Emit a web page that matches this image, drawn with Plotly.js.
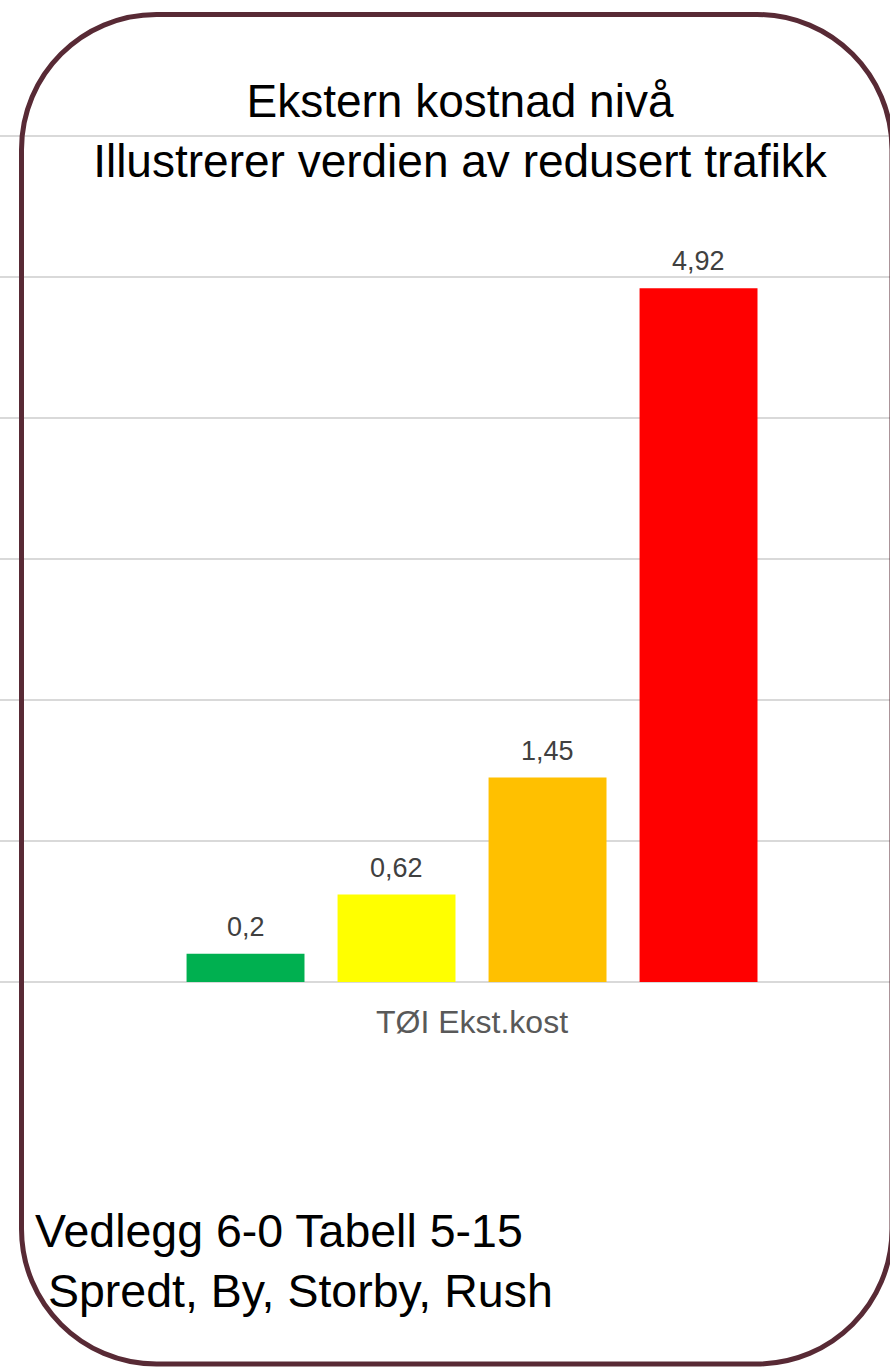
<!DOCTYPE html>
<html>
<head>
<meta charset="utf-8">
<script src="https://cdn.plot.ly/plotly-3.0.1.min.js"></script>
<style>html,body{margin:0;padding:0;background:#fff;}#chart{width:890px;height:1367px;}</style>
</head>
<body>
<div id="chart"></div>
<script>
// ---- data ----
const categories = ["TØI Ekst.kost"];
const seriesNames = ["Spredt", "By", "Storby", "Rush"];
const seriesValues = [0.2, 0.62, 1.45, 4.92];
const seriesColors = ["#00B050", "#FFFF00", "#FFC000", "#FF0000"];
const titleText = "Ekstern kostnad nivå<br>Illustrerer verdien av redusert trafikk";
const footerText = "Vedlegg 6-0 Tabell 5-15<br>\u00A0Spredt, By, Storby, Rush";

// ---- layout geometry ----
const W = 890, H = 1367;
const M = {l: 0, r: 0, t: 100, b: 385, pad: 0};
const plotW = W - M.l - M.r, plotH = H - M.t - M.b;
const xRange = [-0.6252, 0.5536];
const yRange = [0, 6.255];
const bargap = 0.2, bargroupgap = 0.219;
const px2x = px => (px - M.l) / plotW;
const py2y = py => (H - M.b - py) / plotH;
const FONT = '"Liberation Sans", Arial, sans-serif';

const traces = seriesNames.map((name, i) => ({
  type: 'bar',
  name: name,
  x: categories,
  y: [seriesValues[i]],
  marker: {color: seriesColors[i]},
  hoverinfo: 'x+y+name'
}));

// data labels
const unitPx = plotW / (xRange[1] - xRange[0]);
const slotPx = unitPx * (1 - bargap) / seriesNames.length;
const annotations = seriesValues.map((v, i) => ({
  xref: 'x', yref: 'y', x: categories[0], y: v,
  xshift: (i - (seriesNames.length - 1) / 2) * slotPx,
  yshift: 10,
  text: String(v).replace('.', ','),
  showarrow: false, xanchor: 'center', yanchor: 'bottom',
  font: {family: FONT, size: 27, color: '#404040'}
}));
annotations.push({
  xref: 'paper', yref: 'paper', x: px2x(33), y: py2y(1203),
  xanchor: 'left', yanchor: 'top', align: 'left', showarrow: false,
  text: footerText,
  font: {family: FONT, size: 46.5, color: '#000000'}
});

// rounded border
const L = 21.5, T = 14.5, R = 892, B = 1364, rr = 135, k = 0.5523 * rr;
const P = (px, py) => px2x(px) + ',' + py2y(py);
const path = 'M' + P(L + rr, T) + ' L' + P(R - rr, T) +
  ' C' + P(R - rr + k, T) + ' ' + P(R, T + rr - k) + ' ' + P(R, T + rr) +
  ' L' + P(R, B - rr) +
  ' C' + P(R, B - rr + k) + ' ' + P(R - rr + k, B) + ' ' + P(R - rr, B) +
  ' L' + P(L + rr, B) +
  ' C' + P(L + rr - k, B) + ' ' + P(L, B - rr + k) + ' ' + P(L, B - rr) +
  ' L' + P(L, T + rr) +
  ' C' + P(L, T + rr - k) + ' ' + P(L + rr - k, T) + ' ' + P(L + rr, T) + ' Z';

const layout = {
  width: W, height: H,
  margin: M,
  paper_bgcolor: '#ffffff', plot_bgcolor: 'rgba(0,0,0,0)',
  barmode: 'group', bargap: bargap, bargroupgap: bargroupgap,
  showlegend: false,
  font: {family: FONT, color: '#000000'},
  title: {
    text: titleText,
    font: {family: FONT, size: 46, color: '#000000'},
    xref: 'paper', x: px2x(460), xanchor: 'center',
    yref: 'container', y: 1 - 117 / H, yanchor: 'top'
  },
  xaxis: {
    type: 'category', range: xRange, fixedrange: true,
    showgrid: false, zeroline: false, showline: false, ticks: '',
    tickfont: {family: FONT, size: 32, color: '#595959'},
    ticklabelstandoff: 18
  },
  yaxis: {
    range: yRange, dtick: 1, tick0: 0, fixedrange: true,
    showticklabels: false, ticks: '', showline: false,
    showgrid: true, gridcolor: '#D9D9D9', gridwidth: 1.5,
    zeroline: true, zerolinecolor: '#D9D9D9', zerolinewidth: 2
  },
  annotations: annotations,
  shapes: [{
    type: 'path', xref: 'paper', yref: 'paper', path: path,
    line: {color: '#582A35', width: 5}, fillcolor: 'rgba(0,0,0,0)', layer: 'above'
  }]
};

Plotly.newPlot('chart', traces, layout, {displayModeBar: false, staticPlot: true});
</script>
</body>
</html>
